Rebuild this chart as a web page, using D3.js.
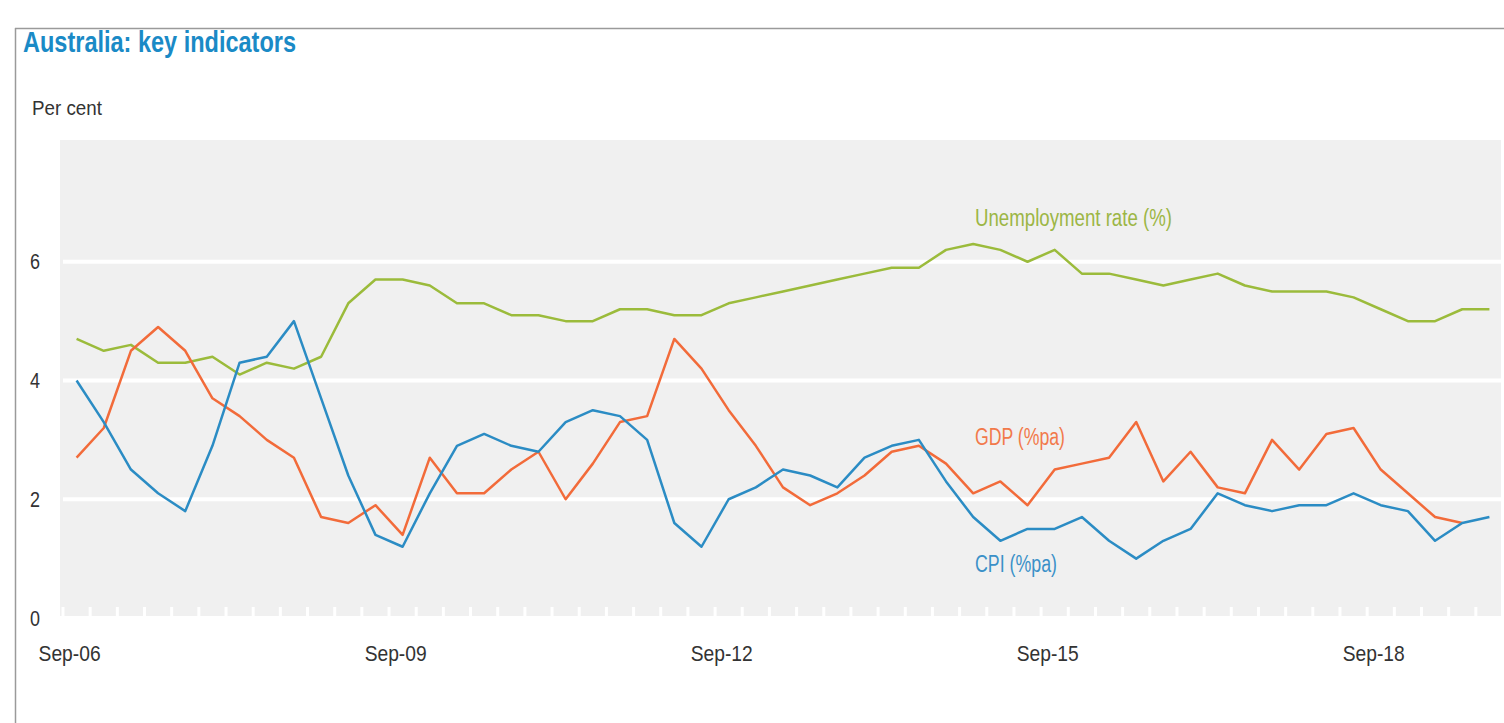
<!DOCTYPE html>
<html>
<head>
<meta charset="utf-8">
<script src="https://cdn.jsdelivr.net/npm/d3@7"></script>
<style>
  body { margin: 0; background: #fff; }
  svg text { font-family: 'Liberation Sans Narrow', 'Arial Narrow', 'Liberation Sans', sans-serif; }
</style>
</head>
<body>
<svg id="chart" width="1504" height="723"></svg>
<script>
const quarters = [
  'Sep-06','Dec-06','Mar-07','Jun-07','Sep-07','Dec-07','Mar-08','Jun-08','Sep-08','Dec-08',
  'Mar-09','Jun-09','Sep-09','Dec-09','Mar-10','Jun-10','Sep-10','Dec-10','Mar-11','Jun-11',
  'Sep-11','Dec-11','Mar-12','Jun-12','Sep-12','Dec-12','Mar-13','Jun-13','Sep-13','Dec-13',
  'Mar-14','Jun-14','Sep-14','Dec-14','Mar-15','Jun-15','Sep-15','Dec-15','Mar-16','Jun-16',
  'Sep-16','Dec-16','Mar-17','Jun-17','Sep-17','Dec-17','Mar-18','Jun-18','Sep-18','Dec-18',
  'Mar-19','Jun-19','Sep-19'
]
const unemployment = [
  4.7,4.5,4.6,4.3,4.3,4.4,4.1,4.3,4.2,4.4,
  5.3,5.7,5.7,5.6,5.3,5.3,5.1,5.1,5.0,5.0,
  5.2,5.2,5.1,5.1,5.3,5.4,5.5,5.6,5.7,5.8,
  5.9,5.9,6.2,6.3,6.2,6.0,6.2,5.8,5.8,5.7,
  5.6,5.7,5.8,5.6,5.5,5.5,5.5,5.4,5.2,5.0,
  5.0,5.2,5.2
]
const gdp = [
  2.7,3.2,4.5,4.9,4.5,3.7,3.4,3.0,2.7,1.7,
  1.6,1.9,1.4,2.7,2.1,2.1,2.5,2.8,2.0,2.6,
  3.3,3.4,4.7,4.2,3.5,2.9,2.2,1.9,2.1,2.4,
  2.8,2.9,2.6,2.1,2.3,1.9,2.5,2.6,2.7,3.3,
  2.3,2.8,2.2,2.1,3.0,2.5,3.1,3.2,2.5,2.1,
  1.7,1.6,null
]
const cpi = [
  4.0,3.3,2.5,2.1,1.8,2.9,4.3,4.4,5.0,3.7,
  2.4,1.4,1.2,2.1,2.9,3.1,2.9,2.8,3.3,3.5,
  3.4,3.0,1.6,1.2,2.0,2.2,2.5,2.4,2.2,2.7,
  2.9,3.0,2.3,1.7,1.3,1.5,1.5,1.7,1.3,1.0,
  1.3,1.5,2.1,1.9,1.8,1.9,1.9,2.1,1.9,1.8,
  1.3,1.6,1.7
]
const yTicks = [0, 2, 4, 6]
const xLabels = ['Sep-06', 'Sep-09', 'Sep-12', 'Sep-15', 'Sep-18']

// narrow font isn't available, so squeeze text to the reference widths
const series = [
  {name: 'Unemployment rate (%)', values: unemployment, color: '#9bbb3b', text: '#9cb645', lx: 975, ly: 226, w: 197},
  {name: 'GDP (%pa)', values: gdp, color: '#f26b3a', text: '#f2794a', lx: 975, ly: 445, w: 90},
  {name: 'CPI (%pa)', values: cpi, color: '#2b8cc4', text: '#3a90c8', lx: 975, ly: 572, w: 82}
]

const svg = d3.select('#chart')
const plot = {left: 60, right: 1501, top: 140, bottom: 616}

const x = d3.scaleBand().domain(quarters).range([63, 1503])
const y = d3.scaleLinear().domain([0, 8]).range([618, 143])

// frame
svg.append('line').attr('x1', 15).attr('x2', 1504).attr('y1', 28.5).attr('y2', 28.5)
  .attr('stroke', '#9a9a9a').attr('stroke-width', 1.5)
svg.append('line').attr('x1', 15.5).attr('x2', 15.5).attr('y1', 28).attr('y2', 723)
  .attr('stroke', '#9a9a9a').attr('stroke-width', 1.5)

svg.append('text').attr('x', 23).attr('y', 52)
  .attr('fill', '#1a8ac6').attr('font-size', 29).attr('font-weight', 'bold')
  .attr('textLength', 273).attr('lengthAdjust', 'spacingAndGlyphs')
  .text('Australia: key indicators')

svg.append('text').attr('x', 32).attr('y', 115)
  .attr('fill', '#333').attr('font-size', 21)
  .attr('textLength', 70).attr('lengthAdjust', 'spacingAndGlyphs')
  .text('Per cent')

// plot background
svg.append('rect')
  .attr('x', plot.left).attr('y', plot.top)
  .attr('width', plot.right - plot.left).attr('height', plot.bottom - plot.top)
  .attr('fill', '#f0f0f0')

// gridlines
svg.append('g').selectAll('line')
  .data(yTicks.filter(d => d > 0))
  .join('line')
    .attr('x1', 63).attr('x2', plot.right)
    .attr('y1', d => y(d)).attr('y2', d => y(d))
    .attr('stroke', '#fff').attr('stroke-width', 4)

// quarter ticks along the bottom
svg.append('g').selectAll('line')
  .data(quarters)
  .join('line')
    .attr('x1', d => x(d)).attr('x2', d => x(d))
    .attr('y1', 607).attr('y2', plot.bottom)
    .attr('stroke', '#fff').attr('stroke-width', 3)

// y axis labels
const yAxis = svg.append('g')
  .attr('transform', 'translate(40,0)')
  .call(d3.axisLeft(y).tickValues(yTicks).tickSize(0).tickPadding(0))
yAxis.select('.domain').remove()
yAxis.selectAll('text')
  .attr('font-size', 22).attr('fill', '#333')
  .attr('textLength', 10).attr('lengthAdjust', 'spacingAndGlyphs')
  .style('font-family', null)

// x axis labels
const xAxis = svg.append('g')
  .attr('transform', 'translate(-7,645)')
  .call(d3.axisBottom(x).tickValues(xLabels).tickSize(0).tickPadding(0))
xAxis.select('.domain').remove()
xAxis.selectAll('text')
  .attr('font-size', 22).attr('fill', '#333').attr('dy', '0.71em')
  .attr('textLength', 62).attr('lengthAdjust', 'spacingAndGlyphs')
  .style('font-family', null)

// lines
const line = d3.line()
  .defined(d => d != null)
  .x((d, i) => x(quarters[i]) + x.bandwidth() / 2)
  .y(d => y(d))

svg.append('g').selectAll('path')
  .data(series)
  .join('path')
    .attr('fill', 'none')
    .attr('stroke', d => d.color)
    .attr('stroke-width', 2.5)
    .attr('stroke-linejoin', 'round')
    .attr('d', d => line(d.values))

svg.append('g').selectAll('text')
  .data(series)
  .join('text')
    .attr('x', d => d.lx).attr('y', d => d.ly)
    .attr('fill', d => d.text).attr('font-size', 23)
    .attr('textLength', d => d.w).attr('lengthAdjust', 'spacingAndGlyphs')
    .text(d => d.name)
</script>
</body>
</html>
